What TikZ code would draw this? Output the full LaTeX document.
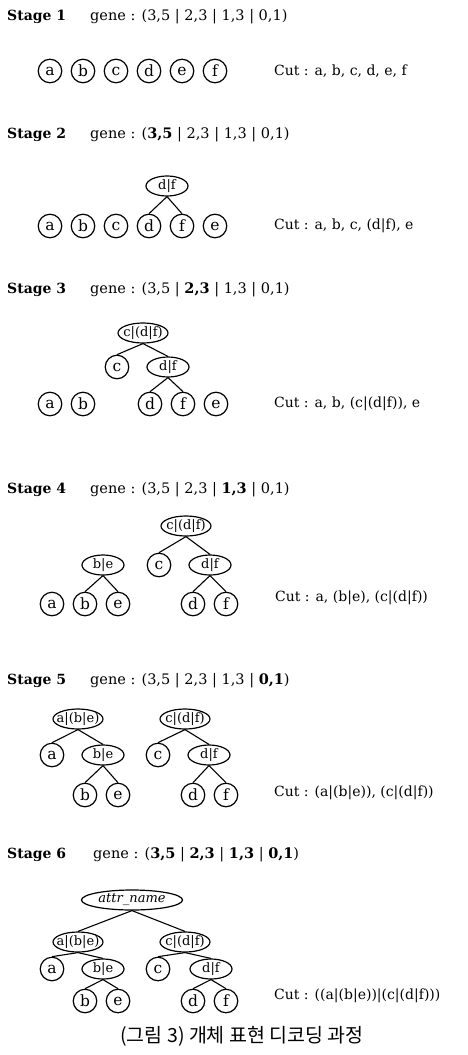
\documentclass[tikz,border=0pt]{standalone}
\usepackage{fontspec}
\setmainfont{DejaVu Serif}
\newfontfamily\kr{Noto Sans CJK KR}
\usetikzlibrary{shapes.geometric}
\tikzset{
  lf/.style={circle, draw, line width=1.2pt, minimum size=23.5pt, inner sep=0pt, font=\fontsize{15.5}{15.5}\selectfont},
  el/.style={ellipse, draw, line width=1.2pt, minimum height=20pt, inner sep=0pt, font=\fontsize{13}{13}\selectfont},
  ed/.style={line width=1.1pt},
  stg/.style={anchor=base west, inner sep=0pt, font=\bfseries\fontsize{14}{14}\selectfont},
  gn/.style={anchor=base west, inner sep=0pt, font=\fontsize{14.5}{14.5}\selectfont},
  ct/.style={anchor=west, inner sep=0pt, font=\fontsize{14}{14}\selectfont},
}
\newcommand{\zt}[1]{\makebox[0pt]{#1}}
\begin{document}
\begin{tikzpicture}[x=1pt,y=-1pt]
\useasboundingbox (0,0) rectangle (468,1055);

% ---------- Stage 1
\node[stg] (t1) at (7,20) {Stage 1};
\node[gn] (g1) at (90,20) {gene : (3,5 | 2,3 | 1,3 | 0,1)};
\node[lf] (s1a) at (50,71) {a};
\node[lf] (s1b) at (83,71) {b};
\node[lf] (s1c) at (116,71) {c};
\node[lf] (s1d) at (149,71) {d};
\node[lf] (s1e) at (182,71) {e};
\node[lf] (s1f) at (215,71) {f};
\node[ct] (c1) at (274,71) {Cut : a, b, c, d, e, f};

% ---------- Stage 2
\node[stg] (t2) at (7,138) {Stage 2};
\node[gn] (g2) at (90,138) {gene : (\textbf{3,5} | 2,3 | 1,3 | 0,1)};
\node[el, minimum width=42pt] (s2df) at (167,186) {\zt{d|f}};
\node[lf] (s2a) at (50,226) {a};
\node[lf] (s2b) at (83,226) {b};
\node[lf] (s2c) at (116,226) {c};
\node[lf] (s2d) at (149,226) {d};
\node[lf] (s2f) at (182,226) {f};
\node[lf] (s2e) at (215,226) {e};
\draw[ed] (s2df.south) -- (s2d.north);
\draw[ed] (s2df.south) -- (s2f.north);
\node[ct] (c2) at (274,226) {Cut : a, b, c, (d|f), e};

% ---------- Stage 3
\node[stg] (t3) at (7,293) {Stage 3};
\node[gn] (g3) at (90,293) {gene : (3,5 | \textbf{2,3} | 1,3 | 0,1)};
\node[el, minimum width=50pt] (s3cdf) at (143,333) {\zt{c|(d|f)}};
\node[lf] (s3c) at (117,367) {c};
\node[el, minimum width=42pt] (s3df) at (168,367) {\zt{d|f}};
\node[lf] (s3a) at (50,404) {a};
\node[lf] (s3b) at (83,404) {b};
\node[lf] (s3d) at (150,404) {d};
\node[lf] (s3f) at (183,404) {f};
\node[lf] (s3e) at (216,404) {e};
\draw[ed] (s3cdf.south) -- (s3c.north);
\draw[ed] (s3cdf.south) -- (s3df.north);
\draw[ed] (s3df.south) -- (s3d.north);
\draw[ed] (s3df.south) -- (s3f.north);
\node[ct] (c3) at (274,404) {Cut : a, b, (c|(d|f)), e};

% ---------- Stage 4
\node[stg] (t4) at (7,493) {Stage 4};
\node[gn] (g4) at (90,493) {gene : (3,5 | 2,3 | \textbf{1,3} | 0,1)};
\node[el, minimum width=50pt] (s4cdf) at (186,526) {\zt{c|(d|f)}};
\node[el, minimum width=42pt] (s4be) at (103,565) {\zt{b|e}};
\node[lf] (s4c) at (159,565) {c};
\node[el, minimum width=42pt] (s4df) at (210,565) {\zt{d|f}};
\node[lf] (s4a) at (52,604) {a};
\node[lf] (s4b) at (85,604) {b};
\node[lf] (s4e) at (118,604) {e};
\node[lf] (s4d) at (193,604) {d};
\node[lf] (s4f) at (226,604) {f};
\draw[ed] (s4cdf.south) -- (s4c.north);
\draw[ed] (s4cdf.south) -- (s4df.north);
\draw[ed] (s4be.south) -- (s4b.north);
\draw[ed] (s4be.south) -- (s4e.north);
\draw[ed] (s4df.south) -- (s4d.north);
\draw[ed] (s4df.south) -- (s4f.north);
\node[ct] (c4) at (275,598) {Cut : a, (b|e), (c|(d|f))};

% ---------- Stage 5
\node[stg] (t5) at (7,684) {Stage 5};
\node[gn] (g5) at (90,684) {gene : (3,5 | 2,3 | 1,3 | \textbf{0,1})};
\node[el, minimum width=50pt] (s5abe) at (78,719) {\zt{a|(b|e)}};
\node[el, minimum width=50pt] (s5cdf) at (185,719) {\zt{c|(d|f)}};
\node[lf] (s5a) at (52,755) {a};
\node[el, minimum width=42pt] (s5be) at (103,755) {\zt{b|e}};
\node[lf] (s5c) at (158,755) {c};
\node[el, minimum width=42pt] (s5df) at (209,755) {\zt{d|f}};
\node[lf] (s5b) at (85,795) {b};
\node[lf] (s5e) at (118,795) {e};
\node[lf] (s5d) at (193,795) {d};
\node[lf] (s5f) at (226,795) {f};
\draw[ed] (s5abe.south) -- (s5a.north);
\draw[ed] (s5abe.south) -- (s5be.north);
\draw[ed] (s5cdf.south) -- (s5c.north);
\draw[ed] (s5cdf.south) -- (s5df.north);
\draw[ed] (s5be.south) -- (s5b.north);
\draw[ed] (s5be.south) -- (s5e.north);
\draw[ed] (s5df.south) -- (s5d.north);
\draw[ed] (s5df.south) -- (s5f.north);
\node[ct] (c5) at (274,793) {Cut : (a|(b|e)), (c|(d|f))};

% ---------- Stage 6
\node[stg] (t6) at (7,858) {Stage 6};
\node[gn] (g6) at (93,858) {gene : (\textbf{3,5} | \textbf{2,3} | \textbf{1,3} | \textbf{0,1})};
\node[el, minimum width=101pt] (s6r) at (132,900) {\zt{\textit{attr\_name}}};
\node[el, minimum width=50pt] (s6abe) at (78,942) {\zt{a|(b|e)}};
\node[el, minimum width=50pt] (s6cdf) at (185,942) {\zt{c|(d|f)}};
\node[lf] (s6a) at (52,969) {a};
\node[el, minimum width=42pt] (s6be) at (103,969) {\zt{b|e}};
\node[lf] (s6c) at (158,969) {c};
\node[el, minimum width=42pt] (s6df) at (211,969) {\zt{d|f}};
\node[lf] (s6b) at (85,1001) {b};
\node[lf] (s6e) at (118,1001) {e};
\node[lf] (s6d) at (193,1001) {d};
\node[lf] (s6f) at (226,1001) {f};
\draw[ed] (s6r.south) -- (s6abe.north);
\draw[ed] (s6r.south) -- (s6cdf.north);
\draw[ed] (s6abe.south) -- (s6a.north);
\draw[ed] (s6abe.south) -- (s6be.north);
\draw[ed] (s6cdf.south) -- (s6c.north);
\draw[ed] (s6cdf.south) -- (s6df.north);
\draw[ed] (s6be.south) -- (s6b.north);
\draw[ed] (s6be.south) -- (s6e.north);
\draw[ed] (s6df.south) -- (s6d.north);
\draw[ed] (s6df.south) -- (s6f.north);
\node[ct] (c6) at (274,996) {Cut : ((a|(b|e))|(c|(d|f)))};

\node[font=\kr\fontsize{19.5}{19.5}\selectfont, inner sep=0pt] (cap) at (242,1036) {(그림 3) 개체 표현 디코딩 과정};
\end{tikzpicture}
\end{document}
